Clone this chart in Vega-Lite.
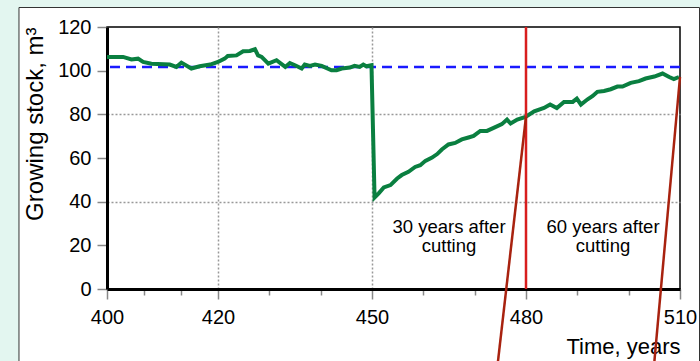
{
  "$schema": "https://vega.github.io/schema/vega-lite/v6.json",
  "width": 573,
  "height": 262,
  "autosize": {"type": "none"},
  "padding": {"left": 107, "top": 27, "right": 20, "bottom": 72},
  "background": "white",
  "config": {"view": {"stroke": "black", "strokeWidth": 1.5}, "font": "Liberation Sans"},
  "datasets": {
    "stock": [
      {"year": 400, "value": 106.3}, {"year": 402.9, "value": 106.3}, {"year": 404.4, "value": 105.1}, {"year": 405.6, "value": 105.5},
      {"year": 406.5, "value": 104.0}, {"year": 408.0, "value": 103.2}, {"year": 411.3, "value": 102.8}, {"year": 412.5, "value": 101.7},
      {"year": 413.4, "value": 103.7}, {"year": 415.2, "value": 101.0}, {"year": 416.7, "value": 102.0}, {"year": 418.6, "value": 102.8},
      {"year": 420, "value": 104.0}, {"year": 421.3, "value": 105.5}, {"year": 421.9, "value": 106.7}, {"year": 423.6, "value": 107.0},
      {"year": 424.9, "value": 108.9}, {"year": 426.2, "value": 109.0}, {"year": 427.2, "value": 109.8}, {"year": 427.8, "value": 107.0},
      {"year": 428.5, "value": 106.3}, {"year": 429.8, "value": 103.2}, {"year": 431.4, "value": 104.8}, {"year": 433.1, "value": 101.7},
      {"year": 434.0, "value": 103.5}, {"year": 435.0, "value": 102.5}, {"year": 436.3, "value": 101.0}, {"year": 436.9, "value": 102.8},
      {"year": 437.9, "value": 102.2}, {"year": 438.9, "value": 102.8}, {"year": 440.2, "value": 102.2}, {"year": 442.1, "value": 100.2},
      {"year": 443.1, "value": 100.2}, {"year": 444.1, "value": 101.0}, {"year": 445.7, "value": 101.4}, {"year": 446.6, "value": 102.2},
      {"year": 447.6, "value": 101.7}, {"year": 448.3, "value": 102.8}, {"year": 448.9, "value": 102.0}, {"year": 449.9, "value": 102.5},
      {"year": 450.5, "value": 41.9}, {"year": 451.3, "value": 43.8}, {"year": 452.3, "value": 46.5}, {"year": 453.6, "value": 47.6},
      {"year": 454.9, "value": 50.6}, {"year": 455.8, "value": 52.2}, {"year": 457.1, "value": 53.7}, {"year": 458.4, "value": 55.9},
      {"year": 459.4, "value": 56.7}, {"year": 460.4, "value": 58.7}, {"year": 461.7, "value": 60.2}, {"year": 462.7, "value": 61.8},
      {"year": 463.6, "value": 63.9}, {"year": 464.9, "value": 66.2}, {"year": 466.2, "value": 66.9}, {"year": 467.5, "value": 68.5},
      {"year": 468.8, "value": 69.4}, {"year": 469.8, "value": 70.1}, {"year": 471.1, "value": 72.4}, {"year": 472.4, "value": 72.4},
      {"year": 473.7, "value": 73.8}, {"year": 475.3, "value": 75.5}, {"year": 476.3, "value": 77.6}, {"year": 477.0, "value": 75.8},
      {"year": 478.3, "value": 77.6}, {"year": 479.9, "value": 78.8}, {"year": 481.6, "value": 81.4}, {"year": 483.5, "value": 82.9},
      {"year": 484.7, "value": 84.5}, {"year": 486.0, "value": 82.9}, {"year": 487.4, "value": 85.7}, {"year": 489.1, "value": 85.7},
      {"year": 489.9, "value": 87.2}, {"year": 490.7, "value": 84.5}, {"year": 492.0, "value": 86.9}, {"year": 493.0, "value": 88.4},
      {"year": 493.9, "value": 90.3}, {"year": 495.2, "value": 90.7}, {"year": 496.5, "value": 91.5}, {"year": 497.8, "value": 92.7},
      {"year": 498.8, "value": 92.7}, {"year": 500.4, "value": 94.4}, {"year": 502.0, "value": 95.2}, {"year": 503.3, "value": 96.4},
      {"year": 505.0, "value": 97.3}, {"year": 506.6, "value": 98.7}, {"year": 507.9, "value": 97.1}, {"year": 508.8, "value": 96.1},
      {"year": 509.8, "value": 97.1}
    ],
    "pointers": [
      {"x": 480, "y": 79, "x2": 474.4, "y2": -36},
      {"x": 510, "y": 97.1, "x2": 504.9, "y2": -36}
    ],
    "notes": [
      {"x": 465, "y": 32.6, "label": ["30 years after", "cutting"]},
      {"x": 495, "y": 32.6, "label": ["60 years after", "cutting"]}
    ]
  },
  "layer": [
    {
      "data": {"values": [{}]},
      "mark": {"type": "rect", "fill": "#e3f6f0"},
      "encoding": {
        "x": {"datum": 300, "type": "quantitative"}, "x2": {"datum": 384.14},
        "y": {"datum": -50, "type": "quantitative"}, "y2": {"datum": 200}
      }
    },
    {
      "data": {"values": [{}]},
      "mark": {"type": "rect", "fill": "#e3f6f0"},
      "encoding": {
        "x": {"datum": 300, "type": "quantitative"}, "x2": {"datum": 600},
        "y": {"datum": 128.93, "type": "quantitative"}, "y2": {"datum": 200}
      }
    },
    {
      "data": {"values": [{}]},
      "mark": {"type": "rect", "fill": "#e3f6f0"},
      "encoding": {
        "x": {"datum": 513.8, "type": "quantitative"}, "x2": {"datum": 600},
        "y": {"datum": -50, "type": "quantitative"}, "y2": {"datum": 200}
      }
    },
    {
      "data": {"values": [{}]},
      "mark": {"type": "rect", "fill": "white", "fillOpacity": 0, "stroke": "#333", "strokeWidth": 1},
      "encoding": {
        "x": {"datum": 384.14, "type": "quantitative"}, "x2": {"datum": 513.8},
        "y": {"datum": -50, "type": "quantitative"}, "y2": {"datum": 128.93}
      }
    },
    {
      "data": {"values": [{}]},
      "mark": {"type": "rule", "color": "#1a1aff", "strokeWidth": 2.5, "strokeDash": [10, 6]},
      "encoding": {"y": {"datum": 101.7, "type": "quantitative"}}
    },
    {
      "data": {"name": "stock"},
      "mark": {"type": "line", "color": "#0a7f40", "strokeWidth": 4},
      "encoding": {
        "x": {
          "field": "year", "type": "quantitative",
          "scale": {"domain": [400, 420, 510], "range": [0, 111, 573], "nice": false, "zero": false},
          "axis": {
            "values": [400, 406.667, 413.333, 420, 430, 440, 450, 460, 470, 480, 490, 500, 510],
            "labelExpr": "indexof([400,420,450,480,510], datum.value) >= 0 ? format(datum.value, 'd') : ''",
            "labelOverlap": false, "labelFlush": false,
            "labelFontSize": 20, "labelColor": "black", "labelPadding": 8,
            "tickSize": {"condition": {"test": "indexof([400,420,450,480,510], datum.value) >= 0", "value": 10}, "value": 6},
            "tickColor": "#888", "tickWidth": 1.5,
            "domainColor": "black", "domainWidth": 3,
            "grid": true, "gridColor": "#999", "gridDash": [2, 2], "gridWidth": 1.5,
            "gridOpacity": {"condition": {"test": "datum.value == 420 || datum.value == 450", "value": 1}, "value": 0},
            "title": "Time, years", "titleAnchor": "end", "titleFontSize": 22, "titleFontWeight": "normal",
            "titleColor": "black", "titlePadding": 9
          }
        },
        "y": {
          "field": "value", "type": "quantitative",
          "scale": {"domain": [0, 120], "nice": false, "zero": false},
          "axis": {
            "values": [0, 20, 40, 60, 80, 100, 120],
            "labelFontSize": 20, "labelColor": "black", "labelPadding": 6,
            "tickSize": 10, "tickColor": "#888", "tickWidth": 1.5,
            "domainColor": "black", "domainWidth": 3,
            "grid": true, "gridColor": "#999", "gridDash": [2, 2], "gridWidth": 1.5,
            "gridOpacity": {"condition": {"test": "datum.value == 40 || datum.value == 80", "value": 1}, "value": 0},
            "title": "Growing stock, m³", "titleAnchor": "end", "titleFontSize": 24, "titleFontWeight": "normal",
            "titleColor": "black", "titlePadding": 10
          }
        }
      }
    },
    {
      "data": {"values": [{}]},
      "mark": {"type": "rule", "color": "#d81e1e", "strokeWidth": 2.5},
      "encoding": {"x": {"datum": 480, "type": "quantitative"}}
    },
    {
      "data": {"name": "pointers"},
      "mark": {"type": "rule", "color": "#a8220f", "strokeWidth": 2.5},
      "encoding": {
        "x": {"field": "x", "type": "quantitative"}, "x2": {"field": "x2"},
        "y": {"field": "y", "type": "quantitative"}, "y2": {"field": "y2"}
      }
    },
    {
      "data": {"name": "notes"},
      "mark": {"type": "text", "fontSize": 18.5, "lineHeight": 19, "baseline": "top", "align": "center", "color": "black"},
      "encoding": {
        "x": {"field": "x", "type": "quantitative"},
        "y": {"field": "y", "type": "quantitative"},
        "text": {"field": "label"}
      }
    }
  ]
}
